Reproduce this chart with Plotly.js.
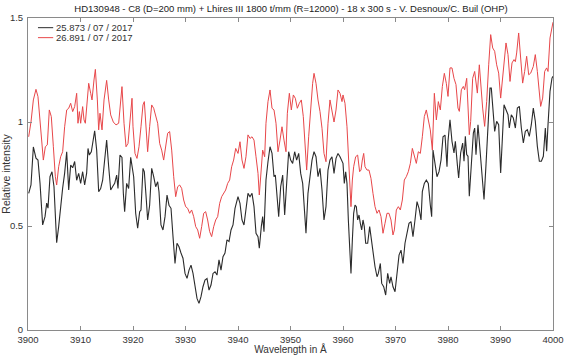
<!DOCTYPE html>
<html>
<head>
<meta charset="utf-8">
<script src="https://cdn.plot.ly/plotly-3.0.1.min.js"></script>
<style>html,body{margin:0;padding:0;background:#fff;}#chart{width:564px;height:355px;}</style>
</head>
<body>
<div id="chart"></div>
<script>
const seriesNames = ["25.873 / 07 / 2017", "26.891 / 07 / 2017"];
const seriesColors = ['#2b2b2b', '#e8474a'];

const lamK = [3900.13,3900.57,3901.02,3901.52,3901.90,3902.29,3902.79,3903.24,3903.56,3903.81,3904.19,3904.57,3904.95,3905.33,3905.46,3905.84,3906.22,3906.60,3906.98,3907.37,3907.75,3908.13,3908.51,3908.89,3909.27,3909.65,3910.03,3910.41,3910.79,3911.17,3911.43,3911.68,3912.06,3912.44,3912.70,3913.08,3913.46,3913.84,3914.22,3914.60,3914.98,3915.37,3915.75,3916.13,3916.51,3916.89,3917.14,3917.52,3917.90,3918.16,3918.41,3918.79,3919.17,3919.56,
3920.13,3920.51,3920.89,3921.27,3921.52,3921.90,3922.16,3922.54,3922.79,3923.17,3923.56,3923.94,3924.32,3924.70,3924.95,3925.33,3925.71,3926.10,3926.48,3926.86,3927.24,3927.62,3928.00,3928.38,3928.76,3929.14,3929.52,3929.91,3930.29,3930.67,3931.05,3931.43,3931.81,3932.19,3932.57,3932.95,3933.33,3933.71,3934.10,3934.48,3934.86,3935.24,3935.62,3936.00,3936.38,3936.76,3937.14,3937.52,3937.90,3938.29,3938.67,3939.05,3939.43,
3940.00,3940.38,3940.76,3941.14,3941.52,3941.90,3942.29,3942.67,3943.05,3943.43,3943.81,3944.06,3944.44,3944.70,3944.95,3945.33,3945.71,3946.10,3946.48,3946.86,3947.11,3947.49,3947.75,3948.13,3948.51,3948.89,3949.27,3949.65,3950.03,3950.41,3950.79,3951.17,3951.56,3951.94,3952.32,3952.70,3952.95,3953.33,3953.71,3954.10,3954.48,3954.86,3955.24,3955.62,3956.00,3956.38,3956.76,3957.14,3957.52,3957.90,3958.29,3958.67,3959.05,3959.43,
3960.00,3960.25,3960.51,3960.76,3961.02,3961.27,3961.52,3961.78,3962.03,3962.29,3962.54,3962.79,3963.05,3963.30,3963.56,3963.81,3964.06,3964.32,3964.70,3965.08,3965.33,3965.71,3966.10,3966.48,3966.73,3967.11,3967.37,3967.75,3968.13,3968.51,3968.89,3969.14,3969.52,3969.91,3970.29,3970.67,3971.05,3971.43,3971.81,3972.19,3972.57,3972.95,3973.33,3973.71,3974.10,3974.48,3974.86,3975.11,3975.49,3975.87,3976.25,3976.63,3976.89,3977.14,3977.52,3977.90,3978.29,3978.67,3979.05,3979.43,3979.81,
3980.00,3980.38,3980.76,3981.14,3981.40,3981.78,3982.03,3982.41,3982.79,3983.05,3983.30,3983.56,3983.81,3984.06,3984.44,3984.83,3985.08,3985.33,3985.71,3986.10,3986.48,3986.86,3987.24,3987.62,3988.00,3988.25,3988.51,3988.89,3989.27,3989.65,3990.03,3990.29,3990.67,3991.05,3991.43,3991.68,3992.06,3992.44,3992.83,3993.21,3993.59,3993.97,3994.35,3994.73,3995.11,3995.49,3995.87,3996.25,3996.63,3997.02,3997.40,3997.78,3998.16,3998.54,3998.79,3999.05,3999.43,3999.81,4000.00];

const fluxK = [0.657,0.697,0.880,0.826,0.817,0.706,0.505,0.545,0.610,0.586,0.737,0.761,0.689,0.425,0.420,0.497,0.610,0.682,0.754,0.857,0.673,0.793,0.780,0.810,0.720,0.753,0.705,0.761,0.697,0.754,0.873,0.841,0.857,0.929,0.958,0.865,0.665,0.680,0.720,0.817,0.913,0.785,0.673,0.690,0.705,0.745,0.680,0.841,0.830,0.657,0.569,0.705,0.680,0.830,
0.737,0.561,0.489,0.569,0.577,0.777,0.760,0.625,0.529,0.600,0.777,0.737,0.689,0.713,0.665,0.505,0.481,0.545,0.649,0.600,0.585,0.449,0.320,0.417,0.400,0.370,0.345,0.272,0.248,0.288,0.312,0.272,0.200,0.152,0.128,0.160,0.208,0.240,0.248,0.192,0.216,0.272,0.280,0.264,0.337,0.288,0.352,0.370,0.433,0.425,0.481,0.505,0.585,
0.641,0.609,0.529,0.505,0.593,0.657,0.641,0.657,0.593,0.465,0.449,0.393,0.497,0.545,0.473,0.721,0.809,0.881,0.849,0.737,0.745,0.625,0.545,0.689,0.745,0.553,0.705,0.857,0.817,0.801,0.857,0.817,0.849,0.753,0.705,0.545,0.465,0.657,0.737,0.817,0.857,0.833,0.737,0.777,0.673,0.529,0.593,0.769,0.817,0.833,0.753,0.825,0.849,0.833,
0.801,0.705,0.761,0.705,0.529,0.369,0.272,0.433,0.561,0.601,0.593,0.529,0.553,0.513,0.481,0.529,0.497,0.417,0.417,0.497,0.449,0.352,0.304,0.256,0.272,0.320,0.224,0.208,0.168,0.272,0.224,0.256,0.208,0.184,0.272,0.360,0.384,0.320,0.417,0.473,0.513,0.521,0.449,0.529,0.617,0.585,0.529,0.665,0.705,0.721,0.705,0.601,0.545,0.865,0.801,0.737,0.761,0.817,0.929,0.937,0.785,
0.907,1.011,0.907,0.851,0.907,0.795,0.731,0.851,0.899,0.811,0.931,0.843,0.835,0.643,0.827,0.947,0.971,0.843,0.987,0.859,0.779,0.627,0.795,1.019,1.163,1.163,1.083,0.955,1.003,0.987,0.755,0.915,1.083,1.059,1.035,0.971,1.035,1.019,0.971,1.067,1.075,0.971,0.899,0.955,0.963,0.931,0.987,1.067,1.003,0.883,0.811,0.811,0.835,0.971,0.859,0.987,1.147,1.211,1.220];

const lamR = [3900.13,3900.57,3901.02,3901.52,3901.90,3902.29,3902.67,3902.92,3903.30,3903.68,3904.06,3904.44,3904.83,3905.21,3905.46,3905.84,3906.22,3906.60,3906.98,3907.37,3907.75,3908.13,3908.51,3908.89,3909.27,3909.52,3909.78,3910.03,3910.41,3910.67,3910.92,3911.17,3911.56,3911.94,3912.19,3912.57,3912.83,3913.21,3913.46,3913.71,3914.10,3914.48,3914.98,3915.37,3915.75,3916.25,3916.76,3917.27,3917.65,3917.90,3918.29,3918.67,3919.05,3919.43,3919.81,
3920.00,3920.38,3920.76,3921.14,3921.52,3921.90,3922.16,3922.54,3922.79,3923.17,3923.56,3923.94,3924.32,3924.70,3925.08,3925.46,3925.84,3926.22,3926.60,3926.98,3927.37,3927.75,3928.13,3928.51,3928.89,3929.27,3929.65,3930.03,3930.41,3930.79,3931.17,3931.56,3931.94,3932.32,3932.70,3933.08,3933.46,3933.84,3934.22,3934.60,3934.98,3935.37,3935.75,3936.13,3936.51,3936.89,3937.27,3937.65,3938.03,3938.41,3938.79,3939.17,3939.56,
3940.00,3940.38,3940.76,3941.14,3941.52,3941.90,3942.29,3942.67,3943.05,3943.43,3943.81,3944.06,3944.44,3944.70,3945.08,3945.33,3945.71,3946.10,3946.48,3946.86,3947.24,3947.62,3948.00,3948.38,3948.76,3949.14,3949.40,3949.78,3950.16,3950.54,3950.92,3951.30,3951.68,3952.06,3952.44,3952.83,3953.08,3953.46,3953.84,3954.22,3954.48,3954.86,3955.24,3955.62,3956.00,3956.38,3956.76,3957.14,3957.52,3957.90,3958.29,3958.67,3959.05,3959.43,3959.81,
3960.00,3960.38,3960.76,3961.14,3961.52,3961.78,3962.03,3962.41,3962.79,3963.17,3963.43,3963.68,3963.94,3964.19,3964.57,3964.95,3965.33,3965.71,3966.10,3966.48,3966.86,3967.24,3967.62,3968.00,3968.38,3968.76,3969.14,3969.52,3969.78,3970.16,3970.54,3970.92,3971.30,3971.68,3972.06,3972.44,3972.83,3973.21,3973.59,3973.97,3974.35,3974.73,3975.11,3975.49,3975.87,3976.25,3976.63,3977.02,3977.40,3977.78,3978.16,3978.54,3978.92,3979.30,3979.68,
3980.00,3980.38,3980.76,3981.14,3981.52,3981.90,3982.16,3982.54,3982.92,3983.17,3983.56,3983.81,3984.06,3984.32,3984.70,3985.08,3985.33,3985.59,3985.97,3986.22,3986.60,3986.98,3987.37,3987.75,3988.13,3988.51,3988.89,3989.27,3989.65,3990.03,3990.29,3990.67,3991.05,3991.43,3991.81,3992.19,3992.57,3992.83,3993.08,3993.46,3993.84,3994.22,3994.60,3994.98,3995.37,3995.75,3996.25,3996.63,3997.02,3997.40,3997.65,3998.03,3998.41,3998.79,3999.05,3999.43,3999.81,4000.00];

const fluxR = [0.929,1.000,1.106,1.157,1.122,1.010,0.913,0.817,0.881,0.890,1.058,1.026,0.881,0.737,0.697,0.785,0.833,0.857,0.977,1.058,1.066,1.090,1.050,1.074,1.138,0.994,1.050,0.994,1.074,1.010,0.994,1.090,1.186,1.138,1.106,1.202,1.253,1.106,0.962,1.042,0.962,1.106,1.200,1.106,1.034,1.000,0.986,0.994,1.114,1.170,0.994,0.881,0.897,1.010,1.114,
0.977,0.849,0.825,0.881,0.977,1.082,1.098,0.946,0.857,0.977,1.082,1.066,1.026,0.994,0.897,0.865,0.817,0.881,0.946,0.954,0.865,0.737,0.641,0.689,0.697,0.681,0.625,0.593,0.585,0.561,0.577,0.545,0.497,0.481,0.441,0.497,0.561,0.569,0.529,0.473,0.449,0.497,0.529,0.545,0.609,0.641,0.657,0.673,0.705,0.721,0.785,0.817,0.873,
0.849,0.905,0.817,0.777,0.833,0.938,0.921,0.929,0.913,0.833,0.753,0.649,0.785,0.865,0.833,0.994,1.098,1.154,1.066,1.058,0.994,0.857,0.913,0.977,0.913,0.857,1.042,1.138,1.058,1.130,1.114,1.066,1.090,1.106,1.026,0.865,0.769,0.929,1.074,1.186,1.234,1.186,1.106,1.050,0.970,0.849,0.809,0.994,1.106,1.058,1.000,1.058,1.154,1.138,1.098,
1.130,1.090,0.977,0.785,0.593,0.721,0.785,0.833,0.841,0.761,0.769,0.817,0.849,0.785,0.769,0.769,0.729,0.657,0.593,0.561,0.577,0.545,0.465,0.513,0.561,0.561,0.529,0.457,0.481,0.577,0.593,0.577,0.625,0.721,0.737,0.761,0.801,0.873,0.833,0.801,0.857,0.849,0.929,1.026,1.058,1.010,0.962,0.865,1.138,1.010,1.098,1.058,1.170,1.234,1.186,
1.123,1.260,1.260,1.210,1.180,1.067,1.051,1.155,1.171,1.155,1.210,1.083,0.939,1.003,1.210,1.243,1.180,1.139,1.275,1.180,1.067,0.979,1.099,1.275,1.420,1.356,1.340,1.275,1.235,1.115,1.180,1.308,1.380,1.324,1.195,1.284,1.300,1.290,1.332,1.428,1.308,1.187,1.243,1.316,1.227,1.235,1.267,1.324,1.243,1.115,1.075,1.115,1.243,1.260,1.243,1.404,1.468,1.480];

const xTicks = [3900,3910,3920,3930,3940,3950,3960,3970,3980,3990,4000];
const yTicks = [0,0.5,1,1.5];

const FONT = "Liberation Sans, Arial, Helvetica, sans-serif";

const traces = [
  {x: lamK, y: fluxK, type: 'scatter', mode: 'lines', name: seriesNames[0],
   line: {color: seriesColors[0], width: 1.1}},
  {x: lamR, y: fluxR, type: 'scatter', mode: 'lines', name: seriesNames[1],
   line: {color: seriesColors[1], width: 1.0}}
];

const axisCommon = {
  showgrid: false, zeroline: false, showline: true, linecolor: '#8a8a8a', linewidth: 1,
  mirror: 'allticks', ticks: 'inside', ticklen: 4, tickcolor: '#8a8a8a', tickwidth: 1,
  tickfont: {family: FONT, size: 9.5, color: '#333'}
};

// compact legend (MATLAB style), positioned in paper coordinates
const legRows = [0.969, 0.937];
const shapes = [];
const annotations = [];
seriesNames.forEach((nm, i) => {
  shapes.push({type: 'line', xref: 'paper', yref: 'paper', x0: 0.019, x1: 0.048,
               y0: legRows[i], y1: legRows[i], line: {color: seriesColors[i], width: 1}});
  annotations.push({xref: 'paper', yref: 'paper', x: 0.050, y: legRows[i], xanchor: 'left', yanchor: 'middle',
                    text: nm, showarrow: false, font: {family: FONT, size: 9.5, color: '#333'}});
});

const layout = {
  width: 564, height: 355,
  margin: {l: 28, r: 11, t: 18, b: 25},
  paper_bgcolor: '#fff', plot_bgcolor: '#fff',
  title: {text: 'HD130948 - C8 (D=200 mm) + Lhires III 1800 t/mm (R=12000) - 18 x 300 s - V. Desnoux/C. Buil (OHP)',
          font: {family: FONT, size: 9.5, color: '#222'}, x: 0.516, xanchor: 'center', y: 0.985, yanchor: 'top'},
  xaxis: Object.assign({}, axisCommon, {range: [3900, 4000], tickvals: xTicks, ticklabelstandoff: 1,
    title: {text: 'Wavelength in Å', font: {family: FONT, size: 10, color: '#333'}, standoff: 1.5}}),
  yaxis: Object.assign({}, axisCommon, {range: [0, 1.5], tickvals: yTicks, ticklabelstandoff: 2,
    title: {text: 'Relative intensity', font: {family: FONT, size: 10.5, color: '#333'}, standoff: 0}}),
  showlegend: false,
  shapes: shapes,
  annotations: annotations
};

Plotly.newPlot('chart', traces, layout, {displayModeBar: false, staticPlot: true});
</script>
</body>
</html>
